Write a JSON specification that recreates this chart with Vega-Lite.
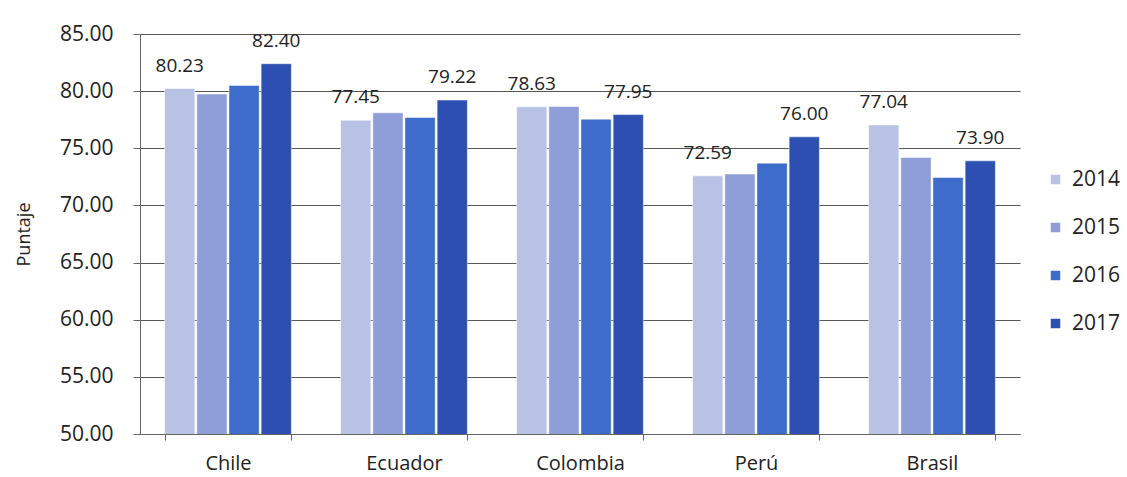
{
  "$schema": "https://vega.github.io/schema/vega-lite/v6.json",
  "width": 880,
  "height": 400,
  "autosize": {"type": "none"},
  "padding": {"left": 140, "top": 34, "right": 107, "bottom": 43},
  "background": "white",
  "config": {
    "view": {"stroke": null},
    "font": "Open Sans"
  },
  "data": {
    "values": [
      {"pais": "Chile", "anio": "2014", "puntaje": 80.23},
      {"pais": "Chile", "anio": "2015", "puntaje": 79.75},
      {"pais": "Chile", "anio": "2016", "puntaje": 80.5},
      {"pais": "Chile", "anio": "2017", "puntaje": 82.4},
      {"pais": "Ecuador", "anio": "2014", "puntaje": 77.45},
      {"pais": "Ecuador", "anio": "2015", "puntaje": 78.1},
      {"pais": "Ecuador", "anio": "2016", "puntaje": 77.7},
      {"pais": "Ecuador", "anio": "2017", "puntaje": 79.22},
      {"pais": "Colombia", "anio": "2014", "puntaje": 78.63},
      {"pais": "Colombia", "anio": "2015", "puntaje": 78.65},
      {"pais": "Colombia", "anio": "2016", "puntaje": 77.55},
      {"pais": "Colombia", "anio": "2017", "puntaje": 77.95},
      {"pais": "Perú", "anio": "2014", "puntaje": 72.59},
      {"pais": "Perú", "anio": "2015", "puntaje": 72.75},
      {"pais": "Perú", "anio": "2016", "puntaje": 73.7},
      {"pais": "Perú", "anio": "2017", "puntaje": 76.0},
      {"pais": "Brasil", "anio": "2014", "puntaje": 77.04},
      {"pais": "Brasil", "anio": "2015", "puntaje": 74.2},
      {"pais": "Brasil", "anio": "2016", "puntaje": 72.45},
      {"pais": "Brasil", "anio": "2017", "puntaje": 73.9}
    ]
  },
  "encoding": {
    "x": {
      "field": "pais",
      "type": "nominal",
      "sort": ["Chile", "Ecuador", "Colombia", "Perú", "Brasil"],
      "scale": {"paddingInner": 0.28, "paddingOuter": 0.14},
      "axis": {
        "title": null,
        "labelAngle": 0,
        "labelFontSize": 20,
        "labelColor": "#222",
        "labelPadding": 13,
        "domainColor": "#666",
        "tickColor": "#666",
        "tickBand": "extent",
        "tickSize": 6,
        "grid": false
      }
    },
    "xOffset": {
      "field": "anio",
      "type": "nominal",
      "scale": {"domain": ["2014", "2015", "2016", "2017"], "paddingInner": 0.06}
    },
    "y": {
      "field": "puntaje",
      "type": "quantitative",
      "scale": {"domain": [50, 85], "nice": false, "zero": false},
      "axis": {
        "title": "Puntaje",
        "titleFontSize": 18,
        "titleFontWeight": "normal",
        "titleColor": "#222",
        "titlePadding": 26,
        "values": [50, 55, 60, 65, 70, 75, 80, 85],
        "format": ".2f",
        "labelFontSize": 21,
        "labelColor": "#222",
        "labelPadding": 20,
        "domainColor": "#666",
        "tickColor": "#666",
        "tickSize": 7,
        "grid": true,
        "gridColor": "#555",
        "gridWidth": 1
      }
    }
  },
  "layer": [
    {
      "mark": {"type": "bar", "clip": true, "stroke": "white", "strokeWidth": 0.5},
      "encoding": {
        "color": {
          "field": "anio",
          "type": "nominal",
          "scale": {
            "domain": ["2014", "2015", "2016", "2017"],
            "range": ["#B8C2E4", "#8F9DD8", "#3E6CCB", "#2D4FB2"]
          },
          "legend": {
            "title": null,
            "orient": "none",
            "legendX": 905,
            "legendY": 135,
            "symbolType": "square",
            "symbolSize": 90,
            "symbolStrokeWidth": 0,
            "labelFontSize": 21,
            "labelColor": "#222",
            "rowPadding": 26,
            "labelOffset": 6
          }
        }
      }
    },
    {
      "transform": [{"filter": "datum.anio == '2014' || datum.anio == '2017'"}],
      "mark": {"type": "text", "baseline": "bottom", "dy": -13, "fontSize": 19, "color": "#222"},
      "encoding": {
        "text": {"field": "puntaje", "type": "quantitative", "format": ".2f"}
      }
    }
  ]
}
